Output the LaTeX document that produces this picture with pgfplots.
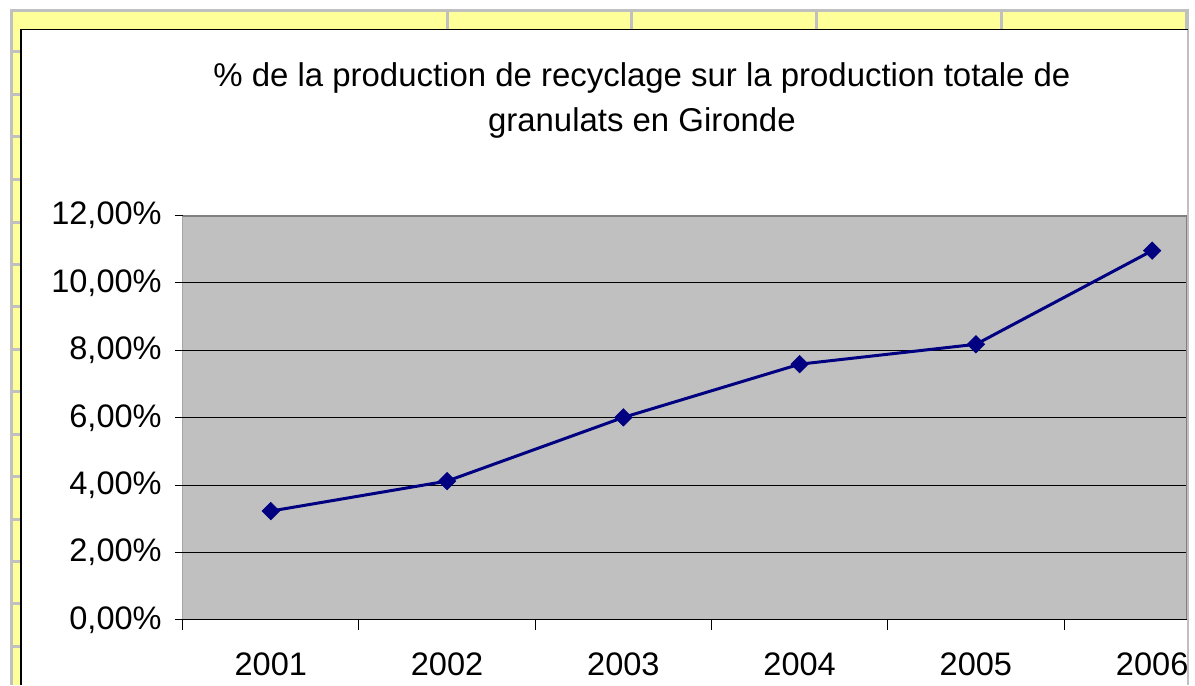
\documentclass[border=0pt]{standalone}
\usepackage{pgfplots}
\pgfplotsset{compat=1.18}
\usepackage{fontspec}
\setmainfont{Liberation Sans}
\definecolor{xlyellow}{HTML}{FFFF99}
\definecolor{xlgray}{HTML}{C0C0C0}
\definecolor{xlnavy}{HTML}{000080}
\definecolor{xldark}{HTML}{808080}
\begin{document}
\begin{tikzpicture}
\fill[white] (0,0) rectangle (597.5pt,343pt);
% spreadsheet frame
\fill[xlgray] (5pt,0) rectangle (595.5pt,338.5pt);
\fill[xlyellow] (6.5pt,0) rectangle (594pt,337pt);
\fill[white] (10.25pt,0) rectangle (594.5pt,328.5pt);
\foreach \xx in {224,316.5,409,501.5,594.5}
  \fill[xlgray] (\xx pt-0.75pt,328.5pt) rectangle (\xx pt+0.75pt,337pt);
\foreach \yy in {317,295.5,274.5,253,231.75,210.5,189.25,168,146.75,125.5,104.25,83,61.75,40.5,19.25}
  \fill[xlgray] (6.5pt,\yy pt-0.75pt) rectangle (10.25pt,\yy pt+0.75pt);
\draw[black,line width=0.8pt] (10.5pt,0) -- (10.5pt,328.3pt) -- (595pt,328.3pt);
% title
\node[anchor=base,inner sep=0pt,font=\fontsize{16.5}{19}\selectfont] at (321.5pt,299.5pt) {\% de la production de recyclage sur la production totale de};
\node[anchor=base,inner sep=0pt,font=\fontsize{16.5}{19}\selectfont] at (321.5pt,277pt) {granulats en Gironde};
\begin{axis}[
  at={(91.5pt,32.5pt)}, anchor=south west,
  scale only axis, width=503pt, height=202.5pt,
  xmin=-0.5, xmax=5.197, ymin=0, ymax=12,
  axis background/.style={fill=xlgray},
  axis line style={draw=none},
  xtick={0,1,2,3,4,5},
  xticklabels={2001,2002,2003,2004,2005,2006},
  minor xtick={-0.5,0.5,1.5,2.5,3.5,4.5},
  major x tick style={draw=none},
  minor x tick style={black,line width=0.5pt},
  minor tick length=5pt,
  xtick pos=bottom, ytick pos=left,
  tick align=outside,
  ytick={0,2,4,6,8,10,12},
  yticklabels={{0,00\%},{2,00\%},{4,00\%},{6,00\%},{8,00\%},{10,00\%},{12,00\%}},
  major y tick style={black,line width=0.5pt},
  major tick length=4pt,
  ymajorgrids,
  grid style={black,line width=0.5pt},
  ticklabel style={font=\fontsize{16.3}{19}\selectfont},
  xticklabel style={yshift=-9pt},
  yticklabel style={xshift=-3pt},
]
\draw[xldark,line width=1pt] (rel axis cs:0,1) -- (rel axis cs:1,1) -- (rel axis cs:1,0);
\draw[black,line width=0.6pt] (rel axis cs:0,1) -- (rel axis cs:0,0) -- (rel axis cs:1,0);
\addplot[xlnavy,line width=1.5pt,mark=square*,mark size=3.1pt,mark options={rotate=45,fill=xlnavy,draw=xlnavy,line width=0.3pt}]
coordinates {(0,3.23) (1,4.12) (2,6.01) (3,7.59) (4,8.18) (5,10.96)};
\end{axis}
\end{tikzpicture}
\end{document}
